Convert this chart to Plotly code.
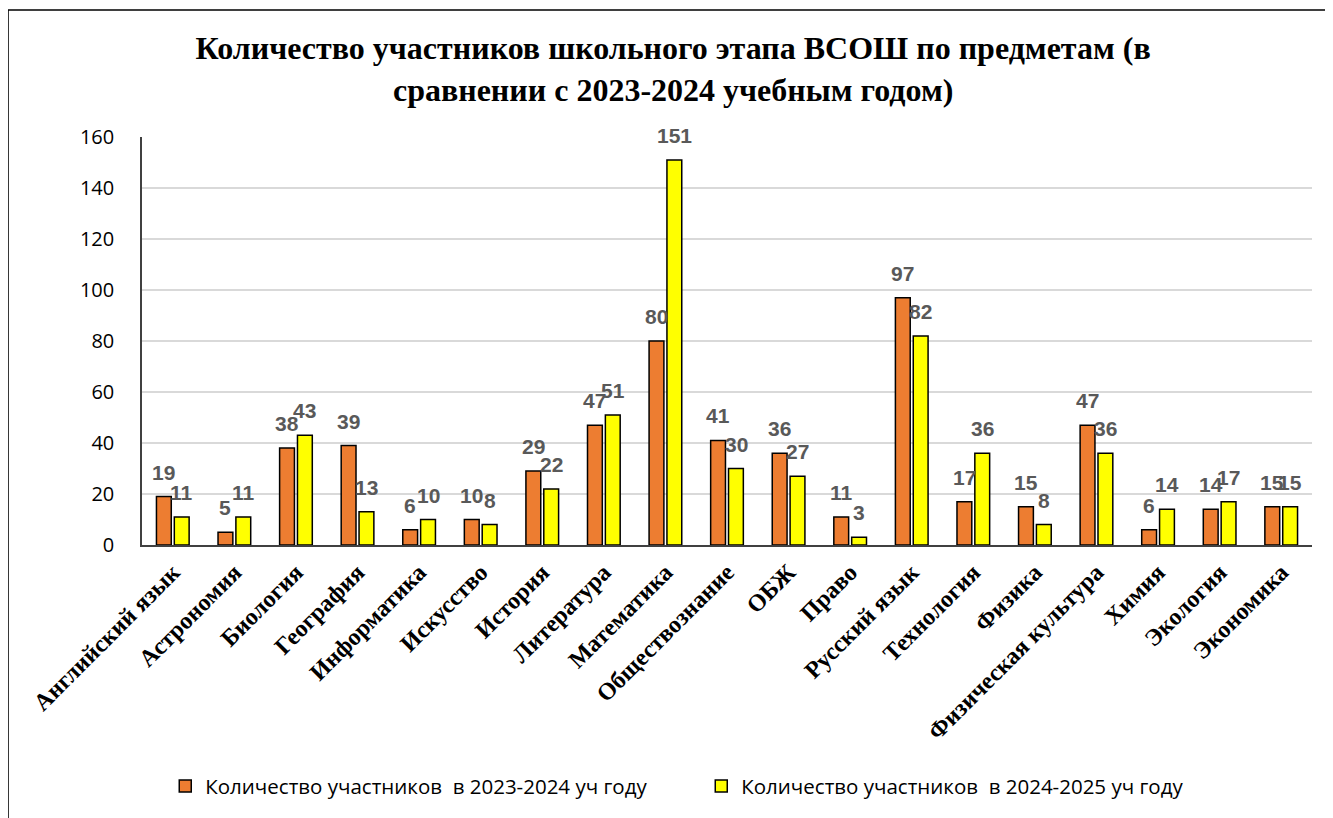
import plotly.graph_objects as go

subjects = [
    "Английский язык", "Астрономия", "Биология", "География", "Информатика",
    "Искусство", "История", "Литература", "Математика", "Обществознание",
    "ОБЖ", "Право", "Русский язык", "Технология", "Физика",
    "Физическая культура", "Химия", "Экология", "Экономика",
]
count_2023 = [19, 5, 38, 39, 6, 10, 29, 47, 80, 41, 36, 11, 97, 17, 15, 47, 6, 14, 15]
count_2024 = [11, 11, 43, 13, 10, 8, 22, 51, 151, 30, 27, 3, 82, 36, 8, 36, 14, 17, 15]
y_ticks = [0, 20, 40, 60, 80, 100, 120, 140, 160]

series = [
    ("Количество участников  в 2023-2024 уч году", count_2023, "#ED7D31", -9),
    ("Количество участников  в 2024-2025 уч году", count_2024, "#FFFF00", 9),
]

fig = go.Figure()
for name, values, color, shift in series:
    fig.add_trace(go.Bar(
        x=subjects, y=values, name=name,
        marker={"color": color, "line": {"color": "#000000", "width": 1.5}},
    ))
    # data labels sit a bit above the bars, like Excel does
    for subj, v in zip(subjects, values):
        fig.add_annotation(
            x=subj, y=v, text=f"<b>{v}</b>", showarrow=False,
            xshift=shift, yshift=11, yanchor="bottom",
            font={"family": "Liberation Sans", "size": 21, "color": "#595959"},
        )

# outer chart frame (left and top edges visible)
fig.add_shape(
    type="rect", xref="paper", yref="paper",
    x0=-0.1145, x1=1.1, y0=-0.8, y1=1.311,
    line={"color": "#000000", "width": 1.5}, fillcolor="rgba(0,0,0,0)",
)

fig.update_layout(
    width=1325, height=810,
    margin={"l": 134, "r": 21, "t": 129, "b": 273},
    title={
        "text": "<b>Количество участников школьного этапа ВСОШ по предметам (в<br>сравнении с 2023-2024 учебным годом)</b>",
        "x": 0.502, "xanchor": "center", "y": 0.937, "yanchor": "top",
        "font": {"family": "Liberation Serif", "size": 32, "color": "#000000"},
    },
    barmode="group", bargap=0.42, bargroupgap=0.17,
    plot_bgcolor="white", paper_bgcolor="white",
    showlegend=True,
    legend={
        "orientation": "h", "x": 0.478, "xanchor": "center", "y": -0.542, "yanchor": "top",
        "font": {"family": "Open Sans", "size": 20.5, "color": "#000000"},
        "itemwidth": 30, "entrywidth": 491,
    },
)
fig.update_xaxes(
    tickangle=-45, showline=True, linecolor="#404040", linewidth=1.5,
    tickfont={"family": "Liberation Serif", "size": 24, "color": "#000000", "weight": "bold"},
    ticklabelstandoff=2, automargin=False,
)
fig.update_yaxes(
    range=[0, 160], tickvals=y_ticks, showgrid=True, gridcolor="#D9D9D9", gridwidth=1.5,
    showline=True, linecolor="#404040", linewidth=1.5, zeroline=False,
    tickfont={"family": "Open Sans", "size": 20, "color": "#000000"},
    ticklabelstandoff=22, automargin=False,
)

fig.write_html("out.html")
